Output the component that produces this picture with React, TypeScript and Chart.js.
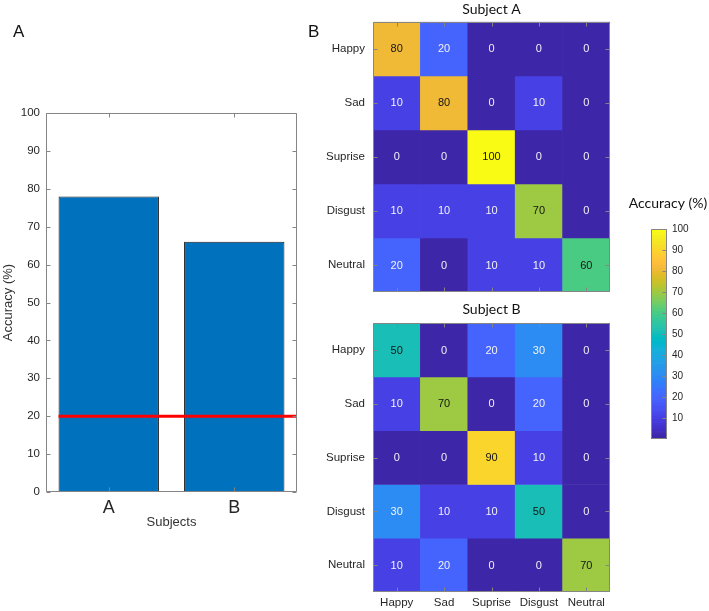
import React, { useEffect, useRef } from "react";
import { Chart, registerables } from "chart.js";

Chart.register(...registerables);

// ---------- data ----------
const subjects = ["A", "B"];
const subjectAccuracy = [78, 66];
const chanceLevel = 20;
const accuracyTickStep = 10;

const emotions = ["Happy", "Sad", "Suprise", "Disgust", "Neutral"];
const subjectAMatrix = [
  [80, 20, 0, 0, 0],
  [10, 80, 0, 10, 0],
  [0, 0, 100, 0, 0],
  [10, 10, 10, 70, 0],
  [20, 0, 10, 10, 60],
];
const subjectBMatrix = [
  [50, 0, 20, 30, 0],
  [10, 70, 0, 20, 0],
  [0, 0, 90, 10, 0],
  [30, 10, 10, 50, 0],
  [10, 20, 0, 0, 70],
];
const colorbarTicks = [10, 20, 30, 40, 50, 60, 70, 80, 90, 100];
const colorbarTitle = "Accuracy (%)";

// MATLAB parula(64)
const PARULA: number[][] = [
  [0.2422, 0.1504, 0.6603], [0.2504, 0.165, 0.7076], [0.2578, 0.1818, 0.7511], [0.2647, 0.1978, 0.7952],
  [0.2706, 0.2147, 0.8364], [0.2751, 0.2342, 0.871], [0.2783, 0.2559, 0.8991], [0.2803, 0.2782, 0.9221],
  [0.2813, 0.3006, 0.9414], [0.281, 0.3228, 0.9579], [0.2795, 0.3447, 0.9717], [0.276, 0.3667, 0.9829],
  [0.2699, 0.3892, 0.9906], [0.2602, 0.4123, 0.9952], [0.244, 0.4358, 0.9988], [0.2206, 0.4603, 0.9973],
  [0.1963, 0.4847, 0.9892], [0.1834, 0.5074, 0.9798], [0.1786, 0.5289, 0.9682], [0.1764, 0.5499, 0.952],
  [0.1687, 0.5703, 0.9359], [0.154, 0.5902, 0.9218], [0.146, 0.6091, 0.9079], [0.138, 0.6276, 0.8973],
  [0.1248, 0.6459, 0.8883], [0.1113, 0.663, 0.8763], [0.0952, 0.6798, 0.8598], [0.0689, 0.6948, 0.8394],
  [0.0297, 0.7082, 0.8163], [0.0036, 0.7203, 0.7917], [0.0067, 0.7312, 0.766], [0.0433, 0.7411, 0.7394],
  [0.0964, 0.75, 0.712], [0.1408, 0.7584, 0.6842], [0.1717, 0.767, 0.6554], [0.1938, 0.7758, 0.6251],
  [0.2161, 0.7843, 0.5923], [0.247, 0.7918, 0.5567], [0.2906, 0.7973, 0.5188], [0.3406, 0.8008, 0.4789],
  [0.3909, 0.8029, 0.4354], [0.4456, 0.8024, 0.3909], [0.5044, 0.7993, 0.348], [0.5616, 0.7942, 0.3045],
  [0.6174, 0.7876, 0.2612], [0.672, 0.7793, 0.2227], [0.7242, 0.7698, 0.191], [0.7738, 0.7598, 0.1646],
  [0.8203, 0.7498, 0.1535], [0.8634, 0.7406, 0.1596], [0.9035, 0.733, 0.1774], [0.9393, 0.7288, 0.21],
  [0.9728, 0.7298, 0.2394], [0.9956, 0.7434, 0.2371], [0.997, 0.7659, 0.2199], [0.9952, 0.7893, 0.2028],
  [0.9892, 0.8136, 0.1885], [0.9786, 0.8386, 0.1766], [0.9676, 0.8639, 0.1643], [0.961, 0.889, 0.1537],
  [0.9597, 0.9135, 0.1423], [0.9628, 0.9373, 0.1265], [0.9691, 0.9606, 0.1064], [0.9769, 0.9839, 0.0805],
];

// ---------- styling ----------
const FONT = "'Liberation Sans', Arial, Helvetica, sans-serif";
const TITLE_FONT = "Lato, 'Liberation Sans', sans-serif";
const TEXT = "#262626";
const FRAME = "#858585";
const BAR_COLOR = "#0072BD";

const rgb = (c: number[]) =>
  `rgb(${Math.round(c[0] * 255)},${Math.round(c[1] * 255)},${Math.round(c[2] * 255)})`;
const parulaColor = (v: number) => {
  const idx = Math.min(PARULA.length - 1, Math.max(0, Math.floor((v / 100) * PARULA.length)));
  return rgb(PARULA[idx]);
};

// ---------- plugins ----------
function makeFrame(opts: { x?: boolean; y?: "both" | "right" | "none" }) {
  return {
    id: "frame",
    afterDraw(chart: any) {
      const { ctx, chartArea: a } = chart;
      const L = Math.round(a.left) + 0.5;
      const R = Math.round(a.right) - 0.5;
      const T = Math.round(a.top) + 0.5;
      const B = Math.round(a.bottom) - 0.5;
      const len = 4;
      ctx.save();
      ctx.strokeStyle = FRAME;
      ctx.lineWidth = 1;
      ctx.beginPath();
      ctx.rect(L, T, R - L, B - T);
      if (opts.x) {
        const xs = chart.scales.x;
        xs.ticks.forEach((_: any, i: number) => {
          const px = Math.round(xs.getPixelForTick(i)) + 0.5;
          ctx.moveTo(px, B);
          ctx.lineTo(px, B - len);
          ctx.moveTo(px, T);
          ctx.lineTo(px, T + len);
        });
      }
      if (opts.y && opts.y !== "none") {
        const ys = chart.scales.y;
        ys.ticks.forEach((_: any, i: number) => {
          const py = Math.round(ys.getPixelForTick(i)) + 0.5;
          if (opts.y === "both") {
            ctx.moveTo(L, py);
            ctx.lineTo(L + len, py);
          }
          ctx.moveTo(R, py);
          ctx.lineTo(R - len, py);
        });
      }
      ctx.stroke();
      ctx.restore();
    },
  };
}

function makePanelLabel(text: string, x: number, y: number) {
  return {
    id: "panelLabel",
    afterDraw(chart: any) {
      const { ctx } = chart;
      ctx.save();
      ctx.font = `17px ${FONT}`;
      ctx.fillStyle = "#111";
      ctx.textAlign = "left";
      ctx.textBaseline = "alphabetic";
      ctx.fillText(text, x, y);
      ctx.restore();
    },
  };
}

const chanceLine = {
  id: "chanceLine",
  afterDatasetsDraw(chart: any) {
    const { ctx, chartArea: a } = chart;
    const y = chart.scales.y.getPixelForValue(chanceLevel);
    const bar = chart.getDatasetMeta(0).data[0];
    const left = bar.x - bar.width / 2;
    ctx.save();
    ctx.strokeStyle = "#FF0000";
    ctx.lineWidth = 3;
    ctx.beginPath();
    ctx.moveTo(left, y);
    ctx.lineTo(a.right, y);
    ctx.stroke();
    ctx.restore();
  },
};

function makeCellValues(matrix: number[][]) {
  return {
    id: "cellValues",
    afterDatasetsDraw(chart: any) {
      const { ctx } = chart;
      const xs = chart.scales.x;
      const ys = chart.scales.y;
      ctx.save();
      ctx.font = `11px ${FONT}`;
      ctx.textAlign = "center";
      ctx.textBaseline = "middle";
      matrix.forEach((row, r) =>
        row.forEach((v, c) => {
          ctx.fillStyle = v >= 50 ? "#141414" : "#f2f2f5";
          ctx.fillText(String(v), xs.getPixelForValue(c), ys.getPixelForValue(r) + 0.5);
        })
      );
      ctx.restore();
    },
  };
}

// ---------- configs ----------
function barConfig(): any {
  return {
    type: "bar",
    data: {
      labels: subjects,
      datasets: [
        {
          data: subjectAccuracy,
          backgroundColor: BAR_COLOR,
          borderColor: "#1e1e1e",
          borderWidth: 1,
          barPercentage: 0.8,
          categoryPercentage: 1,
        },
      ],
    },
    options: {
      responsive: false,
      animation: false,
      devicePixelRatio: 1,
      layout: { padding: { top: 113, right: 3, left: 0, bottom: 0 } },
      plugins: { legend: { display: false }, tooltip: { enabled: false } },
      scales: {
        x: {
          grid: { display: false, drawTicks: false },
          border: { display: false },
          ticks: { font: { size: 18, family: FONT }, color: TEXT, padding: 5 },
          title: {
            display: true,
            text: "Subjects",
            font: { size: 13, family: FONT },
            color: "#333",
            padding: { top: 0, bottom: 10 },
          },
          afterFit: (s: any) => {
            s.height = 48;
          },
        },
        y: {
          min: 0,
          max: 100,
          ticks: { stepSize: accuracyTickStep, font: { size: 11.5, family: FONT }, color: TEXT, padding: 6 },
          grid: { display: false, drawTicks: false },
          border: { display: false },
          title: {
            display: true,
            text: "Accuracy (%)",
            font: { size: 13, family: FONT },
            color: "#333",
            padding: { top: 1, bottom: 0 },
          },
          afterFit: (s: any) => {
            s.width = 46;
          },
        },
      },
    },
    plugins: [makeFrame({ x: true, y: "both" }), chanceLine, makePanelLabel("A", 13, 37)],
  };
}

function heatmapConfig(matrix: number[][], title: string, showColumns: boolean, titlePad: { top: number; bottom: number }, extra: any[]): any {
  return {
    type: "bar",
    data: {
      labels: emotions,
      datasets: matrix.map((row, r) => ({
        data: row.map(() => [r - 0.5, r + 0.5]),
        backgroundColor: row.map((v) => parulaColor(v)),
        borderWidth: 0,
        grouped: false,
        barPercentage: 1,
        categoryPercentage: 1,
      })),
    },
    options: {
      responsive: false,
      animation: false,
      devicePixelRatio: 1,
      layout: { padding: { top: 0, right: 10, left: 0, bottom: 0 } },
      plugins: {
        legend: { display: false },
        tooltip: { enabled: false },
        title: {
          display: true,
          text: title,
          fullSize: false,
          font: { size: 14, family: TITLE_FONT, weight: "normal" },
          color: "#111",
          padding: titlePad,
        },
      },
      scales: {
        x: {
          grid: { display: false, drawTicks: false },
          border: { display: false },
          ticks: {
            display: showColumns,
            font: { size: 11.5, family: FONT },
            color: TEXT,
            padding: 4,
            autoSkip: false,
            maxRotation: 0,
          },
          afterFit: (s: any) => {
            s.height = showColumns ? 19 : 18;
          },
        },
        y: {
          type: "linear",
          reverse: true,
          min: -0.5,
          max: 4.5,
          afterBuildTicks: (s: any) => {
            s.ticks = emotions.map((_, i) => ({ value: i }));
          },
          ticks: {
            callback: (v: any) => emotions[Number(v)] ?? "",
            font: { size: 11.5, family: FONT },
            color: TEXT,
            padding: 8,
          },
          grid: { display: false, drawTicks: false },
          border: { display: false },
          afterFit: (s: any) => {
            s.width = 73;
          },
        },
      },
    },
    plugins: [makeCellValues(matrix), makeFrame({ x: true, y: "both" }), ...extra],
  };
}

function colorbarConfig(): any {
  return {
    type: "bar",
    data: {
      labels: [""],
      datasets: PARULA.map((c, i) => ({
        data: [[(i * 100) / PARULA.length, ((i + 1) * 100) / PARULA.length]],
        backgroundColor: rgb(c),
        borderWidth: 0,
        grouped: false,
        barPercentage: 1,
        categoryPercentage: 1,
        yAxisID: "y",
      })),
    },
    options: {
      responsive: false,
      animation: false,
      devicePixelRatio: 1,
      layout: { padding: 0 },
      plugins: {
        legend: { display: false },
        tooltip: { enabled: false },
        title: {
          display: true,
          text: colorbarTitle,
          font: { size: 14, family: TITLE_FONT, weight: "normal" },
          color: "#111",
          padding: { top: 14.6, bottom: 17.6 },
        },
      },
      scales: {
        x: { display: false },
        y: {
          position: "right",
          min: 0,
          max: 100,
          afterBuildTicks: (s: any) => {
            s.ticks = colorbarTicks.map((v) => ({ value: v }));
          },
          ticks: { font: { size: 10, family: FONT }, color: TEXT, padding: 5 },
          grid: { display: false, drawTicks: false },
          border: { display: false },
          afterFit: (s: any) => {
            s.width = 42;
          },
        },
        yl: {
          position: "left",
          min: 0,
          max: 100,
          ticks: { display: false },
          grid: { display: false, drawTicks: false },
          border: { display: false },
          afterFit: (s: any) => {
            s.width = 24;
          },
        },
      },
    },
    plugins: [makeFrame({ y: "right" })],
  };
}

export default function App() {
  const barRef = useRef<HTMLCanvasElement>(null);
  const hmARef = useRef<HTMLCanvasElement>(null);
  const hmBRef = useRef<HTMLCanvasElement>(null);
  const cbRef = useRef<HTMLCanvasElement>(null);

  useEffect(() => {
    document.body.style.margin = "0";
    const charts = [
      new Chart(barRef.current!, barConfig()),
      new Chart(
        hmARef.current!,
        heatmapConfig(subjectAMatrix, "Subject A", false, { top: 1, bottom: 4 }, [makePanelLabel("B", 8, 37)])
      ),
      new Chart(hmBRef.current!, heatmapConfig(subjectBMatrix, "Subject B", true, { top: 11.5, bottom: 5 }, [])),
      new Chart(cbRef.current!, colorbarConfig()),
    ];
    return () => charts.forEach((c) => c.destroy());
  }, []);

  const abs = (left: number, top: number): React.CSSProperties => ({ position: "absolute", left, top });

  return (
    <div style={{ position: "relative", width: 709, height: 611, background: "#fff", overflow: "hidden" }}>
      <canvas ref={barRef} width={300} height={540} style={abs(0, 0)} />
      <canvas ref={hmARef} width={320} height={310} style={abs(300, 0)} />
      <canvas ref={hmBRef} width={320} height={321} style={abs(300, 290)} />
      <canvas ref={cbRef} width={82} height={270} style={abs(627, 180)} />
    </div>
  );
}
